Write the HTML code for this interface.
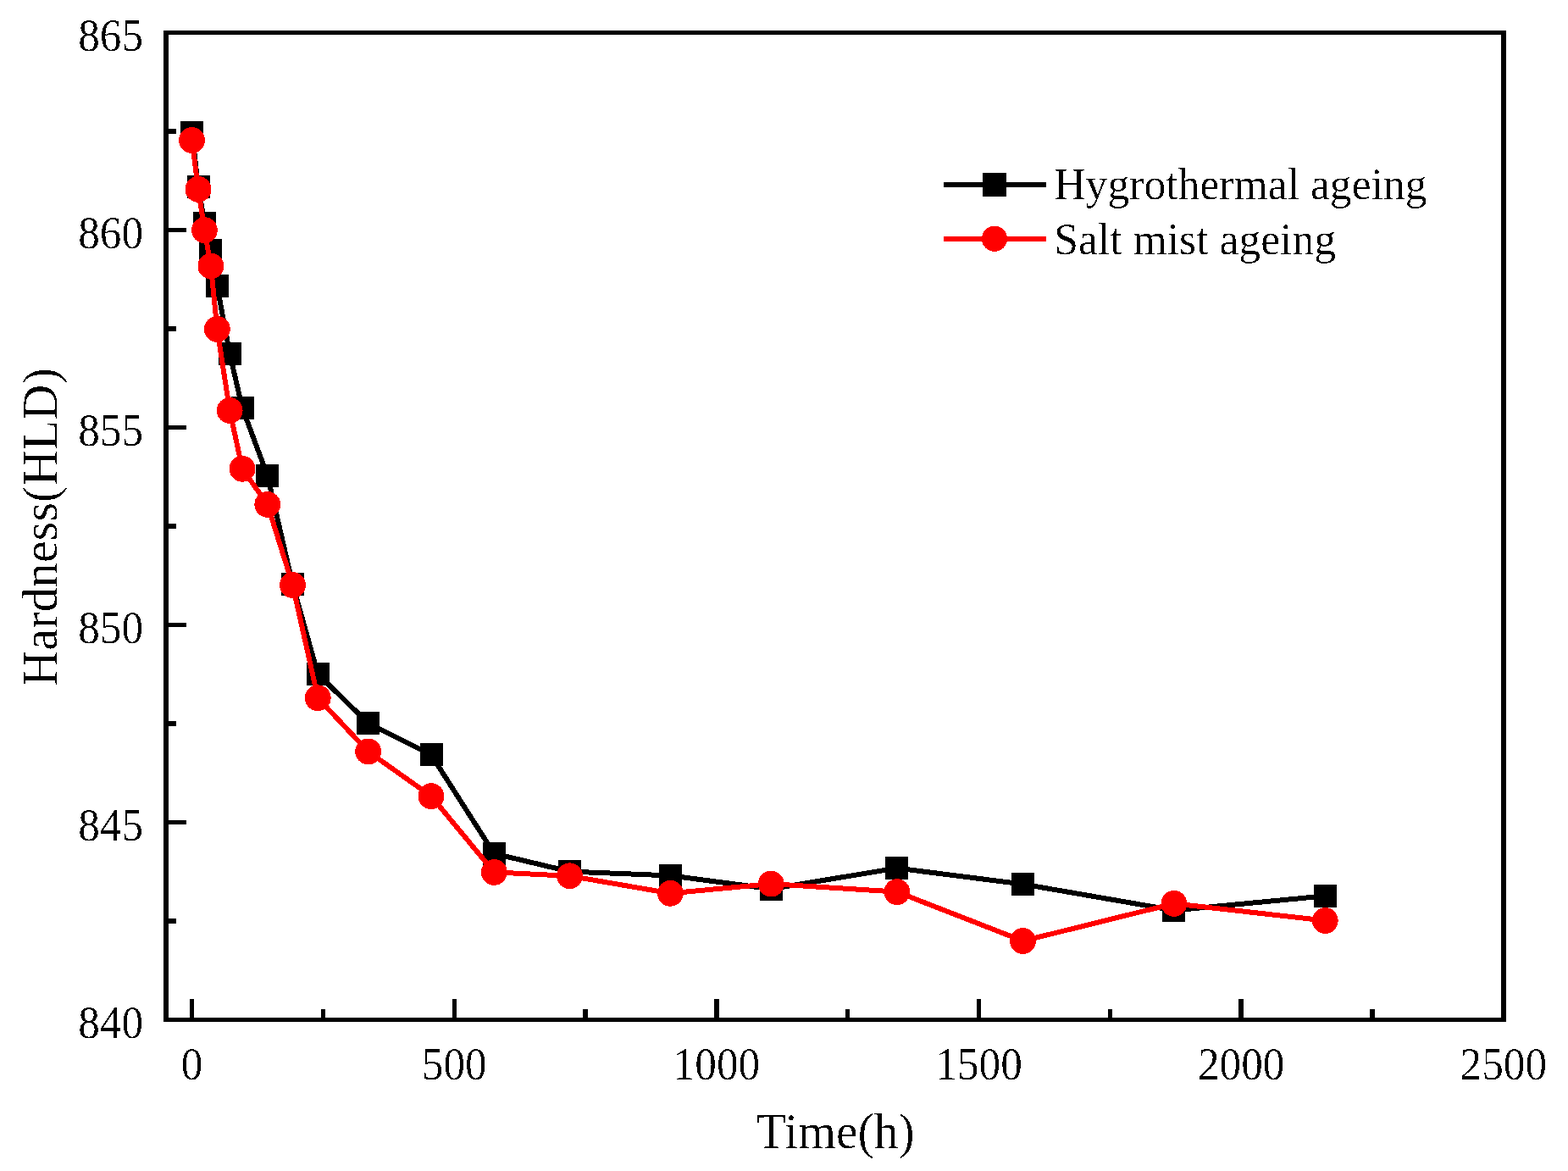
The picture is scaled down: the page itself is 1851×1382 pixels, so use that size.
<!DOCTYPE html>
<html><head><meta charset="utf-8"><title>Hardness vs Time</title><style>
html,body{margin:0;padding:0;background:#fff;}
svg{display:block;}
rect,polyline,circle{shape-rendering:crispEdges;}
text{font-family:"Liberation Serif","Times New Roman",serif;fill:#000;}
.tk{font-size:54.0px;}
.lg{font-size:52.55px;}
.ti{font-size:59.1px;}
.ti2{font-size:59.45px;}
</style></head><body>
<svg width="1851" height="1382" viewBox="0 0 1851 1382">
<defs><filter id="crisp" x="0" y="0" width="1851" height="1382" filterUnits="userSpaceOnUse" color-interpolation-filters="sRGB">
<feComponentTransfer><feFuncA type="discrete" tableValues="0 0 1"/></feComponentTransfer></filter></defs>
<rect width="1851" height="1382" fill="#fff"/>
<g fill="#000">
<rect x="193" y="36" width="1585" height="5"/>
<rect x="193" y="1201" width="1585" height="5"/>
<rect x="193" y="36" width="6" height="1170"/>
<rect x="1772" y="36" width="6" height="1170"/>
<rect x="223.85" y="1179" width="5.5" height="22"/>
<rect x="378.67" y="1191" width="5.5" height="10"/>
<rect x="533.50" y="1179" width="5.5" height="22"/>
<rect x="688.32" y="1191" width="5.5" height="10"/>
<rect x="843.15" y="1179" width="5.5" height="22"/>
<rect x="997.98" y="1191" width="5.5" height="10"/>
<rect x="1152.80" y="1179" width="5.5" height="22"/>
<rect x="1307.62" y="1191" width="5.5" height="10"/>
<rect x="1462.45" y="1179" width="5.5" height="22"/>
<rect x="1617.27" y="1191" width="5.5" height="10"/>
<rect x="199" y="1084.25" width="9" height="5.5"/>
<rect x="199" y="967.75" width="21" height="5.5"/>
<rect x="199" y="851.25" width="9" height="5.5"/>
<rect x="199" y="734.75" width="21" height="5.5"/>
<rect x="199" y="618.25" width="9" height="5.5"/>
<rect x="199" y="501.75" width="21" height="5.5"/>
<rect x="199" y="385.25" width="9" height="5.5"/>
<rect x="199" y="268.75" width="21" height="5.5"/>
<rect x="199" y="152.25" width="9" height="5.5"/>
<polyline points="226.60,156.5 234.03,220.4 241.46,263.6 248.89,295 256.33,337.6 271.19,417.5 286.05,481.4 315.78,561.5 345.51,689.7 375.23,795.5 434.68,853.5 509.00,890.9 583.32,1007.4 672.50,1028.6 791.40,1033.4 910.31,1049.1 1058.94,1024.6 1207.57,1043.5 1385.93,1074.4 1564.29,1057.4" fill="none" stroke="#000" stroke-width="6"/>
<rect x="213.10" y="143.00" width="27" height="27"/>
<rect x="220.53" y="206.90" width="27" height="27"/>
<rect x="227.96" y="250.10" width="27" height="27"/>
<rect x="235.39" y="281.50" width="27" height="27"/>
<rect x="242.83" y="324.10" width="27" height="27"/>
<rect x="257.69" y="404.00" width="27" height="27"/>
<rect x="272.55" y="467.90" width="27" height="27"/>
<rect x="302.28" y="548.00" width="27" height="27"/>
<rect x="332.01" y="676.20" width="27" height="27"/>
<rect x="361.73" y="782.00" width="27" height="27"/>
<rect x="421.18" y="840.00" width="27" height="27"/>
<rect x="495.50" y="877.40" width="27" height="27"/>
<rect x="569.82" y="993.90" width="27" height="27"/>
<rect x="659.00" y="1015.10" width="27" height="27"/>
<rect x="777.90" y="1019.90" width="27" height="27"/>
<rect x="896.81" y="1035.60" width="27" height="27"/>
<rect x="1045.44" y="1011.10" width="27" height="27"/>
<rect x="1194.07" y="1030.00" width="27" height="27"/>
<rect x="1372.43" y="1060.90" width="27" height="27"/>
<rect x="1550.79" y="1043.90" width="27" height="27"/>
<polyline points="226.60,165.6 234.03,223.4 241.46,271.7 248.89,314 256.33,388.4 271.19,484.5 286.05,553.3 315.78,595.4 345.51,690.4 375.23,823.7 434.68,887 509.00,939.6 583.32,1029.4 672.50,1033.8 791.40,1054.3 910.31,1043.1 1058.94,1052.6 1207.57,1110.5 1385.93,1066.4 1564.29,1086.5" fill="none" stroke="#f00" stroke-width="6"/>
<circle cx="226.60" cy="165.6" r="15.4" fill="#f00"/>
<circle cx="234.03" cy="223.4" r="15.4" fill="#f00"/>
<circle cx="241.46" cy="271.7" r="15.4" fill="#f00"/>
<circle cx="248.89" cy="314" r="15.4" fill="#f00"/>
<circle cx="256.33" cy="388.4" r="15.4" fill="#f00"/>
<circle cx="271.19" cy="484.5" r="15.4" fill="#f00"/>
<circle cx="286.05" cy="553.3" r="15.4" fill="#f00"/>
<circle cx="315.78" cy="595.4" r="15.4" fill="#f00"/>
<circle cx="345.51" cy="690.4" r="15.4" fill="#f00"/>
<circle cx="375.23" cy="823.7" r="15.4" fill="#f00"/>
<circle cx="434.68" cy="887" r="15.4" fill="#f00"/>
<circle cx="509.00" cy="939.6" r="15.4" fill="#f00"/>
<circle cx="583.32" cy="1029.4" r="15.4" fill="#f00"/>
<circle cx="672.50" cy="1033.8" r="15.4" fill="#f00"/>
<circle cx="791.40" cy="1054.3" r="15.4" fill="#f00"/>
<circle cx="910.31" cy="1043.1" r="15.4" fill="#f00"/>
<circle cx="1058.94" cy="1052.6" r="15.4" fill="#f00"/>
<circle cx="1207.57" cy="1110.5" r="15.4" fill="#f00"/>
<circle cx="1385.93" cy="1066.4" r="15.4" fill="#f00"/>
<circle cx="1564.29" cy="1086.5" r="15.4" fill="#f00"/>
<rect x="1114" y="215" width="121" height="6" rx="1.5"/>
<rect x="1160" y="204" width="28" height="28" rx="1"/>
<rect x="1114" y="279" width="121" height="6" rx="1.5" fill="#f00"/>
<circle cx="1174" cy="281.8" r="15.1" fill="#f00"/>
</g>
<g filter="url(#crisp)">
<text transform="translate(226.60,1273.5) scale(0.95,1)" class="tk" text-anchor="middle">0</text>
<text transform="translate(536.25,1273.5) scale(0.95,1)" class="tk" text-anchor="middle">500</text>
<text transform="translate(845.90,1273.5) scale(0.95,1)" class="tk" text-anchor="middle">1000</text>
<text transform="translate(1155.55,1273.5) scale(0.95,1)" class="tk" text-anchor="middle">1500</text>
<text transform="translate(1465.20,1273.5) scale(0.95,1)" class="tk" text-anchor="middle">2000</text>
<text transform="translate(1774.85,1273.5) scale(0.95,1)" class="tk" text-anchor="middle">2500</text>
<text transform="translate(169.1,1224.50) scale(0.95,1)" class="tk" text-anchor="end">840</text>
<text transform="translate(169.1,991.50) scale(0.95,1)" class="tk" text-anchor="end">845</text>
<text transform="translate(169.1,758.50) scale(0.95,1)" class="tk" text-anchor="end">850</text>
<text transform="translate(169.1,525.50) scale(0.95,1)" class="tk" text-anchor="end">855</text>
<text transform="translate(169.1,292.50) scale(0.95,1)" class="tk" text-anchor="end">860</text>
<text transform="translate(169.1,59.50) scale(0.95,1)" class="tk" text-anchor="end">865</text>
<text transform="translate(1244.3,235.4) scale(0.983,1)" class="lg">Hygrothermal ageing</text>
<text transform="translate(1244.3,299.5) scale(0.983,1)" class="lg">Salt mist ageing</text>
<text transform="translate(893,1355.05) scale(0.975,1)" class="ti">Time(h)</text>
<text transform="translate(67.2,809.75) rotate(-90) scale(0.981,1)" class="ti2">Hardness(HLD)</text>
</g>
</svg>
</body></html>
